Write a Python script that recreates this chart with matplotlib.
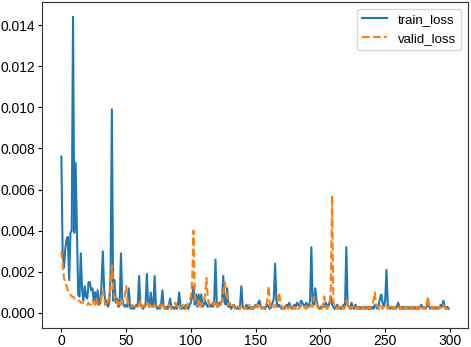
import matplotlib
matplotlib.use("Agg")
import matplotlib.pyplot as plt
import numpy as np

plt.rcParams["font.family"] = ["Liberation Sans", "DejaVu Sans"]

epochs = np.arange(300)

train_loss = [
    0.0076, 0.0029, 0.0022, 0.0031, 0.0036, 0.0037, 0.0016, 0.0039, 0.0040, 0.0144,
    0.0039, 0.0073, 0.0040, 0.0009, 0.0008, 0.0029, 0.0011, 0.0006, 0.0013, 0.0008,
    0.0007, 0.0015, 0.0015, 0.0011, 0.0012, 0.0006, 0.0010, 0.0005, 0.0011, 0.0004,
    0.0005, 0.0014, 0.0030, 0.0012, 0.0004, 0.0006, 0.0003, 0.0005, 0.0018, 0.0099,
    0.0006, 0.0016, 0.0005, 0.0007, 0.0003, 0.0004, 0.0029, 0.0007, 0.0004, 0.0003,
    0.0004, 0.0003, 0.0012, 0.0003, 0.0002, 0.0003, 0.0002, 0.0003, 0.0004, 0.0003,
    0.0018, 0.0004, 0.0003, 0.0002, 0.0003, 0.0004, 0.0019, 0.0004, 0.0003, 0.0010,
    0.0004, 0.0003, 0.0018, 0.0004, 0.0002, 0.0003, 0.0002, 0.0004, 0.0011, 0.0003,
    0.0002, 0.0003, 0.0002, 0.0004, 0.0007, 0.0002, 0.0003, 0.0002, 0.0003, 0.0002,
    0.0004, 0.0010, 0.0003, 0.0002, 0.0003, 0.0002, 0.0004, 0.0003, 0.0002, 0.0004,
    0.0005, 0.0008, 0.0013, 0.0004, 0.0009, 0.0003, 0.0009, 0.0004, 0.0009, 0.0003,
    0.0004, 0.0006, 0.0004, 0.0003, 0.0005, 0.0003, 0.0004, 0.0003, 0.0006, 0.0026,
    0.0004, 0.0003, 0.0005, 0.0004, 0.0006, 0.0018, 0.0005, 0.0004, 0.0012, 0.0003,
    0.0004, 0.0002, 0.0003, 0.0004, 0.0003, 0.0002, 0.0003, 0.0002, 0.0004, 0.0013,
    0.0003, 0.0002, 0.0003, 0.0004, 0.0002, 0.0003, 0.0002, 0.0003, 0.0002, 0.0003,
    0.0004, 0.0003, 0.0005, 0.0006, 0.0003, 0.0002, 0.0003, 0.0002, 0.0003, 0.0004,
    0.0003, 0.0002, 0.0003, 0.0005, 0.0007, 0.0024, 0.0006, 0.0003, 0.0004, 0.0003,
    0.0002, 0.0003, 0.0002, 0.0003, 0.0004, 0.0003, 0.0005, 0.0003, 0.0002, 0.0003,
    0.0004, 0.0003, 0.0005, 0.0004, 0.0003, 0.0006, 0.0005, 0.0004, 0.0003, 0.0005,
    0.0004, 0.0003, 0.0006, 0.0032, 0.0005, 0.0004, 0.0012, 0.0006, 0.0003, 0.0002,
    0.0003, 0.0002, 0.0004, 0.0003, 0.0005, 0.0004, 0.0003, 0.0005, 0.0008, 0.0004,
    0.0003, 0.0002, 0.0003, 0.0004, 0.0002, 0.0003, 0.0002, 0.0003, 0.0004, 0.0003,
    0.0032, 0.0004, 0.0003, 0.0002, 0.0005, 0.0003, 0.0002, 0.0004, 0.0003, 0.0002,
    0.0003, 0.0002, 0.0003, 0.0002, 0.0003, 0.0002, 0.0003, 0.0002, 0.0003, 0.0002,
    0.0003, 0.0002, 0.0004, 0.0003, 0.0002, 0.0004, 0.0007, 0.0009, 0.0005, 0.0003,
    0.0006, 0.0021, 0.0004, 0.0003, 0.0002, 0.0003, 0.0002, 0.0003, 0.0002, 0.0003,
    0.0005, 0.0003, 0.0002, 0.0003, 0.0002, 0.0003, 0.0002, 0.0003, 0.0002, 0.0003,
    0.0002, 0.0003, 0.0002, 0.0003, 0.0002, 0.0003, 0.0002, 0.0003, 0.0004, 0.0002,
    0.0003, 0.0002, 0.0003, 0.0004, 0.0003, 0.0002, 0.0003, 0.0002, 0.0003, 0.0002,
    0.0003, 0.0002, 0.0003, 0.0004, 0.0003, 0.0006, 0.0003, 0.0002, 0.0003, 0.0002,
]

valid_loss = [
    0.0030, 0.0024, 0.0017, 0.0015, 0.0013, 0.0011, 0.0010, 0.0009, 0.0008, 0.0008,
    0.0007, 0.0007, 0.0006, 0.0006, 0.0006, 0.0005, 0.0005, 0.0005, 0.0005, 0.0004,
    0.0004, 0.0005, 0.0004, 0.0004, 0.0006, 0.0005, 0.0004, 0.0007, 0.0004, 0.0004,
    0.0004, 0.0008, 0.0011, 0.0007, 0.0004, 0.0006, 0.0005, 0.0008, 0.0012, 0.0023,
    0.0012, 0.0007, 0.0008, 0.0005, 0.0004, 0.0006, 0.0004, 0.0005, 0.0007, 0.0008,
    0.0013, 0.0006, 0.0004, 0.0003, 0.0003, 0.0004, 0.0003, 0.0003, 0.0004, 0.0003,
    0.0004, 0.0006, 0.0003, 0.0003, 0.0004, 0.0003, 0.0004, 0.0005, 0.0003, 0.0004,
    0.0003, 0.0003, 0.0004, 0.0003, 0.0002, 0.0003, 0.0004, 0.0003, 0.0005, 0.0003,
    0.0003, 0.0002, 0.0003, 0.0004, 0.0003, 0.0002, 0.0003, 0.0004, 0.0005, 0.0003,
    0.0004, 0.0003, 0.0002, 0.0003, 0.0004, 0.0003, 0.0002, 0.0004, 0.0005, 0.0006,
    0.0008, 0.0016, 0.0040, 0.0009, 0.0005, 0.0004, 0.0006, 0.0003, 0.0005, 0.0004,
    0.0006, 0.0009, 0.0017, 0.0008, 0.0004, 0.0003, 0.0004, 0.0005, 0.0004, 0.0006,
    0.0003, 0.0004, 0.0005, 0.0004, 0.0007, 0.0009, 0.0015, 0.0011, 0.0008, 0.0004,
    0.0005, 0.0003, 0.0004, 0.0003, 0.0002, 0.0003, 0.0004, 0.0003, 0.0002, 0.0004,
    0.0003, 0.0002, 0.0003, 0.0002, 0.0003, 0.0004, 0.0003, 0.0002, 0.0003, 0.0002,
    0.0003, 0.0004, 0.0003, 0.0002, 0.0003, 0.0002, 0.0003, 0.0002, 0.0004, 0.0006,
    0.0013, 0.0004, 0.0003, 0.0002, 0.0003, 0.0004, 0.0003, 0.0005, 0.0010, 0.0006,
    0.0003, 0.0002, 0.0003, 0.0002, 0.0003, 0.0002, 0.0003, 0.0004, 0.0003, 0.0002,
    0.0003, 0.0002, 0.0003, 0.0002, 0.0003, 0.0004, 0.0003, 0.0002, 0.0003, 0.0002,
    0.0003, 0.0002, 0.0003, 0.0004, 0.0003, 0.0008, 0.0006, 0.0004, 0.0003, 0.0002,
    0.0003, 0.0002, 0.0004, 0.0008, 0.0003, 0.0002, 0.0003, 0.0004, 0.0012, 0.0057,
    0.0006, 0.0003, 0.0002, 0.0003, 0.0002, 0.0003, 0.0002, 0.0003, 0.0002, 0.0003,
    0.0006, 0.0004, 0.0002, 0.0003, 0.0002, 0.0003, 0.0002, 0.0003, 0.0002, 0.0003,
    0.0002, 0.0003, 0.0002, 0.0003, 0.0002, 0.0003, 0.0002, 0.0003, 0.0002, 0.0003,
    0.0004, 0.0006, 0.0010, 0.0004, 0.0003, 0.0002, 0.0004, 0.0003, 0.0002, 0.0003,
    0.0003, 0.0004, 0.0002, 0.0003, 0.0002, 0.0003, 0.0002, 0.0003, 0.0002, 0.0003,
    0.0003, 0.0002, 0.0003, 0.0002, 0.0003, 0.0002, 0.0003, 0.0002, 0.0003, 0.0002,
    0.0003, 0.0002, 0.0003, 0.0002, 0.0003, 0.0002, 0.0003, 0.0002, 0.0003, 0.0002,
    0.0003, 0.0002, 0.0004, 0.0008, 0.0003, 0.0002, 0.0003, 0.0002, 0.0003, 0.0002,
    0.0003, 0.0002, 0.0003, 0.0002, 0.0003, 0.0004, 0.0003, 0.0002, 0.0003, 0.0002,
]

fig = plt.figure(figsize=(4.71, 3.47), dpi=100)
ax = fig.add_axes([42 / 471, 1 - 328 / 347, 426 / 471, 326 / 347])

ax.plot(epochs, train_loss, color="#1f77b4", lw=1.5, label="train_loss")
ax.plot(epochs, valid_loss, color="#ff7f0e", lw=1.5, ls="--", label="valid_loss")

ax.set_xlim(-14.95, 313.95)
ax.set_ylim(-0.00073, 0.01512)
ax.set_xticks([0, 50, 100, 150, 200, 250, 300])
ax.set_yticks(np.arange(0, 0.0141, 0.002))
ax.tick_params(axis="x", labelsize=10, length=3, width=0.8, pad=1.5)
ax.tick_params(axis="y", labelsize=10, length=3, width=0.8, pad=2)
for s in ax.spines.values():
    s.set_linewidth(0.8)
    s.set_color("#333333")

ax.legend(loc="upper right", fontsize=9.5, handlelength=1.9)

fig.savefig("out.png", dpi=100)
